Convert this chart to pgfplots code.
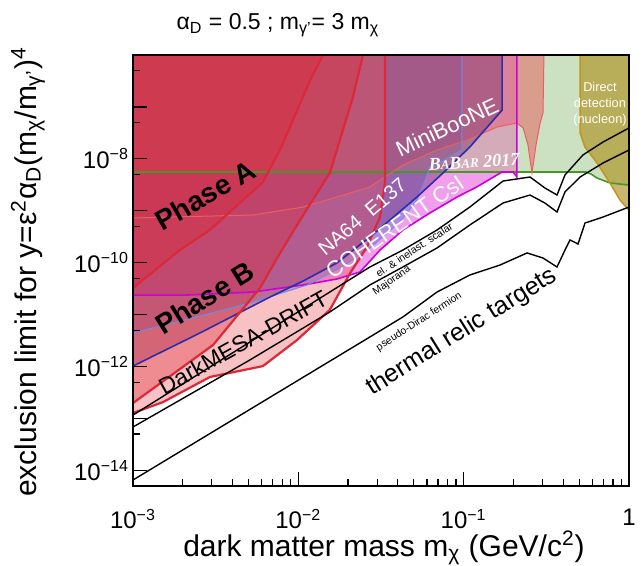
\documentclass[border=0pt]{standalone}
\usepackage{fontspec}
\setmainfont{Liberation Sans}
\newfontfamily\babarfont{Liberation Serif}
\usepackage{pgfplots}
\pgfplotsset{compat=1.18}
\definecolor{cRed}{RGB}{220,40,55}
\definecolor{cDrift}{RGB}{235,80,85}
\definecolor{cBabar}{RGB}{125,180,100}
\definecolor{cBabarLine}{RGB}{70,150,40}
\definecolor{cRtwo}{RGB}{230,90,90}
\definecolor{cRtwoLine}{RGB}{235,95,95}
\definecolor{cCoh}{RGB}{230,80,220}
\definecolor{cCohUp}{RGB}{225,90,175}
\definecolor{cCohLine}{RGB}{205,0,215}
\definecolor{cEoneThree}{RGB}{80,110,220}
\definecolor{cEoneThreeUp}{RGB}{150,110,170}
\definecolor{cEoneThreeLine}{RGB}{110,140,230}
\definecolor{cMini}{RGB}{120,50,110}
\definecolor{cMiniLine}{RGB}{45,45,170}
\definecolor{cDD}{RGB}{175,145,35}
\definecolor{cDDLine}{RGB}{195,150,30}
\begin{document}
\begin{tikzpicture}
\useasboundingbox (-66.5pt,-40pt) rectangle (255pt,243pt);
\begin{axis}[
  at={(0,0)}, anchor=south west,
  scale only axis, width=248pt, height=215.5pt,
  xmode=log, ymode=log,
  xmin=1e-3, xmax=1, ymin=5e-15, ymax=1e-6,
  axis on top,
  axis line style={line width=1pt},
  tick pos=left, tick align=inside,
  major tick length=7pt, minor tick length=3.5pt,
  tick style={black, line width=0.6pt},
  xtick={1e-3,1e-2,1e-1,1},
  xticklabels={10\textsuperscript{−3},10\textsuperscript{−2},10\textsuperscript{−1},1},
  xticklabel shift=8pt,
  yticklabel shift=-1.5pt,
  minor xtick={2e-3,3e-3,4e-3,5e-3,6e-3,7e-3,8e-3,9e-3,2e-2,3e-2,4e-2,5e-2,6e-2,7e-2,8e-2,9e-2,0.2,0.3,0.4,0.5,0.6,0.7,0.8,0.9},
  ytick={1e-14,1e-13,1e-12,1e-11,1e-10,1e-9,1e-8,1e-7},
  yticklabels={10\textsuperscript{−14},,10\textsuperscript{−12},,10\textsuperscript{−10},,10\textsuperscript{−8},},
  minor ytick={5e-15,5e-14,5e-13,5e-12,5e-11,5e-10,5e-9,5e-8,5e-7},
  ticklabel style={font=\fontsize{12}{14}\selectfont},
]
% ---------- fills ----------
% BaBar 2017
\addplot[draw=none, fill=cBabar, fill opacity=0.4] coordinates {
(1e-3,5.58e-9) (0.549,5.58e-9) (0.589,5.1e-9) (0.641,4.27e-9) (0.768,3.43e-9) (1,3.13e-9) (1,1e-6) (1e-3,1e-6)} -- cycle;
% salmon region with spike
\addplot[draw=none, fill=cRtwo, fill opacity=0.5] coordinates {
(1e-3,7.26e-10) (5.32e-3,8.29e-10) (1.07e-2,1.18e-9) (1.71e-2,1.84e-9) (2.71e-2,2.87e-9) (4.29e-2,7.60e-9) (6.90e-2,1.48e-8) (0.109,2.41e-8) (0.159,4.10e-8) (0.210,4.90e-8) (0.229,3.93e-8) (0.245,1.85e-8) (0.259,5.34e-9) (0.274,1.85e-8) (0.290,4.90e-8) (0.302,7.64e-8) (0.306,1e-6) (1e-3,1e-6)} -- cycle;
% COHERENT CsI (below the BaBar line)
\addplot[draw=none, fill=cCoh, fill opacity=0.55] coordinates {
(1e-3,2.38e-11) (2.12e-3,2.38e-11) (5.32e-3,2.72e-11) (1.07e-2,3.72e-11) (1.71e-2,4.85e-11) (2.36e-2,6.62e-11) (3.12e-2,1.75e-10) (4.29e-2,4.26e-10) (6.25e-2,9.06e-10) (9.12e-2,1.84e-9) (0.120,2.87e-9) (0.159,4.89e-9) (0.171,5.58e-9) (0.199,5.58e-9) (0.210,4.47e-9) (0.210,5.58e-9) (1e-3,5.58e-9)} -- cycle;
% COHERENT CsI (above the BaBar line)
\addplot[draw=none, fill=cCohUp, fill opacity=0.4] coordinates {
(1e-3,5.58e-9) (0.210,5.58e-9) (0.210,1e-6) (1e-3,1e-6)} -- cycle;
% E137 (below the BaBar line)
\addplot[draw=none, fill=cEoneThree, fill opacity=0.4] coordinates {
(1e-3,4.42e-12) (2.54e-3,9.40e-12) (5.10e-3,1.67e-11) (1.13e-2,3.72e-11) (1.79e-2,7.91e-11) (2.71e-2,1.92e-10) (4.12e-2,6.08e-10) (5.22e-2,1.61e-9) (6.1e-2,5.58e-9) (1e-3,5.58e-9)} -- cycle;
% E137 (above the BaBar line)
\addplot[draw=none, fill=cEoneThreeUp, fill opacity=0.3] coordinates {
(1e-3,5.58e-9) (6.1e-2,5.58e-9) (6.25e-2,6.67e-9) (9.77e-2,1.48e-8) (9.77e-2,1e-6) (1e-3,1e-6)} -- cycle;
% MiniBooNE / NA64
\addplot[draw=none, fill=cMini, fill opacity=0.45] coordinates {
(1e-3,1.02e-12) (2.54e-3,4.42e-12) (6.74e-3,2.18e-11) (1.07e-2,4.44e-11) (1.71e-2,9.86e-11) (2.71e-2,3.12e-10) (5.22e-2,1.84e-9) (7.50e-2,5.34e-9) (0.109,1.69e-8) (0.171,8.72e-8) (0.171,1e-6) (1e-3,1e-6)} -- cycle;
% DarkMESA DRIFT
\addplot[draw=none, fill=cDrift, fill opacity=0.35] coordinates {
(1e-3,1.27e-13) (1.52e-3,2.07e-13) (2.92e-3,6.29e-13) (6.11e-3,1.02e-12) (9.82e-3,3.24e-12) (1.55e-2,1.23e-11) (2.06e-2,6.33e-11) (2.60e-2,2.00e-10) (3.12e-2,7.58e-10) (3.34e-2,3.43e-9) (3.34e-2,1e-6) (1e-3,1e-6)} -- cycle;
% Phase B
\addplot[draw=none, fill=cRed, fill opacity=0.35] coordinates {
(1e-3,1.98e-13) (3.05e-3,2.60e-12) (5.86e-3,3.25e-11) (8.08e-3,1.92e-10) (1.11e-2,1.0e-9) (1.55e-2,5.34e-9) (2.14e-2,1.55e-7) (2.46e-2,1e-6) (1e-3,1e-6)} -- cycle;
% Phase A
\addplot[draw=none, fill=cRed, fill opacity=0.4] coordinates {
(1e-3,3.25e-11) (1.92e-3,1.75e-10) (2.92e-3,4.26e-10) (6.11e-3,3.58e-9) (7.74e-3,1.48e-8) (9.29e-3,5.60e-8) (1.18e-2,3.30e-7) (1.41e-2,1e-6) (1e-3,1e-6)} -- cycle;
% Direct detection
\addplot[draw=none, fill=cDD, fill opacity=0.65] coordinates {
(0.506,1e-6) (0.506,3.15e-8) (0.542,1.69e-8) (0.641,8.32e-9) (0.768,3.43e-9) (0.883,1.61e-9) (1,1.03e-9) (1,1e-6)} -- cycle;
% ---------- boundary lines ----------
\addplot[cBabarLine, line width=0.8pt] coordinates {
(1e-3,5.58e-9) (0.549,5.58e-9) (0.589,5.1e-9) (0.641,4.27e-9) (0.768,3.43e-9) (1,3.13e-9)};
\addplot[cRtwoLine, line width=0.5pt] coordinates {
(1e-3,7.26e-10) (5.32e-3,8.29e-10) (1.07e-2,1.18e-9) (1.71e-2,1.84e-9) (2.71e-2,2.87e-9) (4.29e-2,7.60e-9) (6.90e-2,1.48e-8) (0.109,2.41e-8) (0.159,4.10e-8) (0.210,4.90e-8) (0.229,3.93e-8) (0.245,1.85e-8) (0.259,5.34e-9) (0.274,1.85e-8) (0.290,4.90e-8) (0.302,7.64e-8) (0.306,1e-6)};
\addplot[cCohLine, line width=0.8pt] coordinates {
(1e-3,2.38e-11) (2.12e-3,2.38e-11) (5.32e-3,2.72e-11) (1.07e-2,3.72e-11) (1.71e-2,4.85e-11) (2.36e-2,6.62e-11) (3.12e-2,1.75e-10) (4.29e-2,4.26e-10) (6.25e-2,9.06e-10) (9.12e-2,1.84e-9) (0.120,2.87e-9) (0.159,4.89e-9) (0.171,5.58e-9) (0.199,5.58e-9) (0.210,4.47e-9) (0.210,1e-6)};
\addplot[cEoneThreeLine, line width=0.5pt] coordinates {
(1e-3,4.42e-12) (2.54e-3,9.40e-12) (5.10e-3,1.67e-11) (1.13e-2,3.72e-11) (1.79e-2,7.91e-11) (2.71e-2,1.92e-10) (4.12e-2,6.08e-10) (5.22e-2,1.61e-9) (6.25e-2,6.67e-9) (9.77e-2,1.48e-8) (9.77e-2,1e-6)};
\addplot[cMiniLine, line width=0.8pt] coordinates {
(1e-3,1.02e-12) (2.54e-3,4.42e-12) (6.74e-3,2.18e-11) (1.07e-2,4.44e-11) (1.71e-2,9.86e-11) (2.71e-2,3.12e-10) (5.22e-2,1.84e-9) (7.50e-2,5.34e-9) (0.109,1.69e-8) (0.171,8.72e-8) (0.171,1e-6)};
\addplot[cRed, line width=1.1pt, line join=round] coordinates {
(1e-3,1.27e-13) (1.52e-3,2.07e-13) (2.92e-3,6.29e-13) (6.11e-3,1.02e-12) (9.82e-3,3.24e-12) (1.55e-2,1.23e-11) (2.06e-2,6.33e-11) (2.60e-2,2.00e-10) (3.12e-2,7.58e-10) (3.34e-2,3.43e-9) (3.34e-2,1e-6)};
\addplot[cRed, line width=1.1pt, line join=round] coordinates {
(1e-3,1.98e-13) (3.05e-3,2.60e-12) (5.86e-3,3.25e-11) (8.08e-3,1.92e-10) (1.11e-2,1.0e-9) (1.55e-2,5.34e-9) (2.14e-2,1.55e-7) (2.46e-2,1e-6)};
\addplot[cRed, line width=1.1pt, line join=round] coordinates {
(1e-3,3.25e-11) (1.92e-3,1.75e-10) (2.92e-3,4.26e-10) (6.11e-3,3.58e-9) (7.74e-3,1.48e-8) (9.29e-3,5.60e-8) (1.18e-2,3.30e-7) (1.41e-2,1e-6)};
\addplot[cDDLine, line width=0.8pt] coordinates {
(0.506,1e-6) (0.506,3.15e-8) (0.542,1.69e-8) (0.641,8.32e-9) (0.768,3.43e-9) (0.883,1.61e-9) (1,1.03e-9)};
% ---------- thermal relic targets ----------
\addplot[black, line width=0.7pt] coordinates {
(1e-3,1.16e-13) (5.10e-3,2.97e-12) (1.55e-2,2.72e-11) (2.71e-2,8.26e-11) (4.29e-2,1.75e-10) (6.90e-2,4.26e-10) (0.109,1.18e-9) (0.173,3.74e-9) (0.252,4.47e-9) (0.310,2.75e-9) (0.367,2.01e-9) (0.410,4.89e-9) (0.527,1.19e-8) (0.697,2.11e-8) (1.0,3.93e-8)};
\addplot[black, line width=0.7pt] coordinates {
(1e-3,6.84e-14) (5.10e-3,1.34e-12) (1.55e-2,1.12e-11) (2.71e-2,3.72e-11) (4.29e-2,8.26e-11) (6.90e-2,1.92e-10) (0.109,5.32e-10) (0.173,1.41e-9) (0.252,2.01e-9) (0.310,1.41e-9) (0.367,9.47e-10) (0.410,2.30e-9) (0.506,4.47e-9) (0.697,8.32e-9) (1.0,1.48e-8)};
\addplot[black, line width=0.7pt] coordinates {
(1e-3,6.52e-15) (2.71e-2,3.71e-12) (4.29e-2,9.0e-12) (6.90e-2,2.72e-11) (0.109,5.79e-11) (0.166,9.02e-11) (0.242,1.54e-10) (0.302,1.23e-10) (0.367,8.26e-11) (0.410,1.75e-10) (0.440,2.74e-10) (0.492,2.29e-10) (0.542,5.81e-10) (0.697,7.58e-10) (1.0,1.18e-9)};
% ---------- annotations ----------
\node[rotate=30, font=\fontsize{14}{16}\selectfont\bfseries] at (rel axis cs:0.145,0.675) {Phase A};
\node[rotate=32, font=\fontsize{14}{16}\selectfont\bfseries] at (rel axis cs:0.145,0.437) {Phase B};
\node[rotate=29, font=\fontsize{11.5}{13}\selectfont] at (rel axis cs:0.222,0.334) {DarkMESA-DRIFT};
\node[rotate=40, white, font=\fontsize{10}{12}\selectfont] at (rel axis cs:0.462,0.624) {NA64\ \ E137};
\node[rotate=35, white, font=\fontsize{11}{13}\selectfont] at (rel axis cs:0.528,0.601) {COHERENT CsI};
\node[rotate=25, white, font=\fontsize{11}{13}\selectfont] at (rel axis cs:0.633,0.833) {MiniBooNE};
\node[rotate=3, white, font=\fontsize{9}{11}\babarfont\bfseries\itshape] at (rel axis cs:0.6875,0.752) {B{\fontsize{6.5}{8}\selectfont A}B{\fontsize{6.5}{8}\selectfont AR} 2017};
\node[rotate=32, font=\fontsize{12.5}{15}\selectfont] at (rel axis cs:0.663,0.357) {thermal relic targets};
\node[rotate=33, font=\fontsize{5.2}{6}\selectfont] at (rel axis cs:0.567,0.548) {el. \& inelast. scalar};
\node[rotate=35, font=\fontsize{5.2}{6}\selectfont] at (rel axis cs:0.522,0.476) {Majorana};
\node[rotate=33, font=\fontsize{5.2}{6}\selectfont] at (rel axis cs:0.577,0.381) {pseudo-Dirac fermion};
\node[white, align=center, font=\fontsize{6.4}{8}\selectfont] at (rel axis cs:0.9415,0.886) {Direct\\detection\\(nucleon)};
\end{axis}
\node[rotate=90, font=\fontsize{15}{18}\selectfont] at (-52.5pt,107pt) {exclusion limit for y=ε\textsuperscript{2}α\textsubscript{D}(m\textsubscript{χ}/m\textsubscript{γ'})\textsuperscript{4}};
\node[font=\fontsize{15}{18}\selectfont] at (125.5pt,-31pt) {dark matter mass m\textsubscript{χ} (GeV/c\textsuperscript{2})};
\node[font=\fontsize{11.5}{14}\selectfont] at (72.5pt,230.5pt) {α\textsubscript{D} = 0.5 ; m\textsubscript{γ'}= 3 m\textsubscript{χ}};
\end{tikzpicture}
\end{document}
